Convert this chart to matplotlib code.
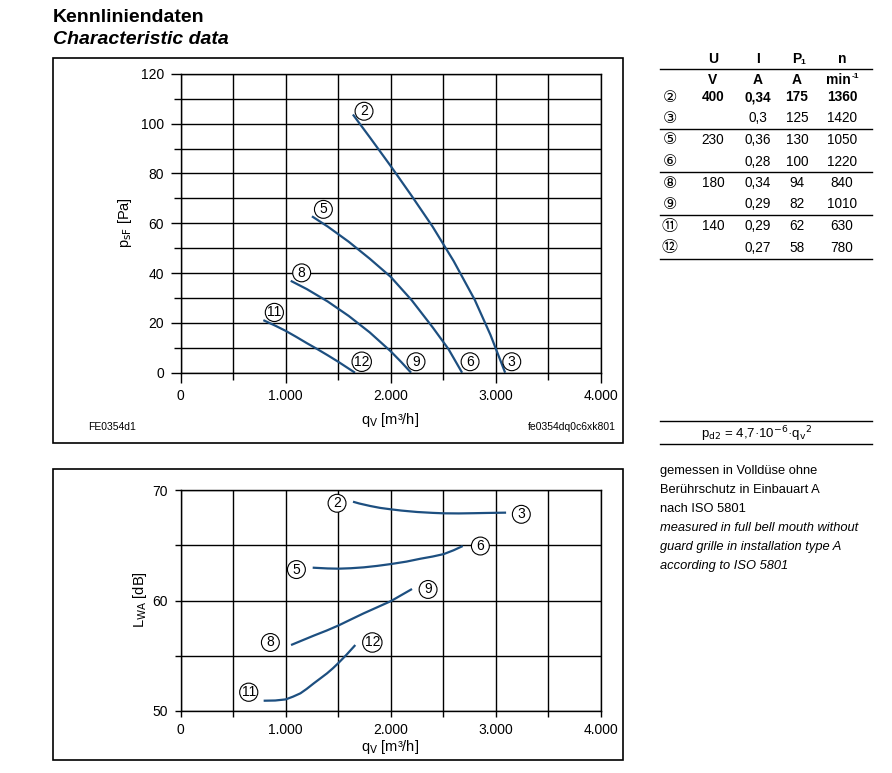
import matplotlib
matplotlib.use("Agg")
import matplotlib.pyplot as plt
from matplotlib.patches import Rectangle
from matplotlib.lines import Line2D

plt.rcParams['font.family'] = ['Liberation Sans', 'DejaVu Sans']

W, H = 892, 773
CURVE = '#1d4f80'

# ---- data: pressure curves (qv [m3/h], psF [Pa])
p23_q = [1640, 1800, 2000, 2200, 2400, 2600, 2800, 2950, 3090]
p23_p = [103.7, 94.6, 83.0, 71.0, 58.6, 44.8, 29.3, 15.2, 0]
p56_q = [1250, 1400, 1600, 1800, 2000, 2200, 2400, 2550, 2680]
p56_p = [62.8, 58.7, 52.6, 45.8, 38.5, 29.1, 18.2, 9.5, 0]
p89_q = [1048, 1200, 1400, 1600, 1800, 2000, 2100, 2194]
p89_p = [36.9, 33.6, 28.6, 22.8, 16.2, 8.6, 4.3, 0]
p1112_q = [787, 900, 1000, 1100, 1200, 1300, 1400, 1500, 1580, 1660]
p1112_p = [21.1, 18.9, 16.8, 14.4, 11.9, 9.5, 7.0, 4.4, 2.2, 0]

# ---- data: sound power curves (qv [m3/h], LWA [dB])
l23_q = [1641, 1700, 1806, 1900, 2003, 2100, 2251, 2400, 2505, 2650, 2790, 2900, 3099]
l23_l = [68.94, 68.78, 68.55, 68.38, 68.25, 68.14, 68.01, 67.93, 67.89, 67.88, 67.9, 67.92, 67.95]
l56_q = [1257, 1400, 1505, 1620, 1743, 1870, 2003, 2150, 2283, 2400, 2505, 2600, 2686]
l56_l = [62.97, 62.9, 62.88, 62.92, 63.0, 63.13, 63.3, 63.52, 63.78, 63.98, 64.2, 64.55, 64.93]
l89_q = [1051, 1160, 1267, 1390, 1505, 1620, 1743, 1870, 2003, 2100, 2203]
l89_l = [55.97, 56.4, 56.82, 57.28, 57.75, 58.28, 58.84, 59.38, 59.95, 60.48, 61.04]
l1112_q = [790, 900, 1000, 1070, 1140, 1200, 1267, 1330, 1394, 1450, 1505, 1580, 1663]
l1112_l = [50.93, 50.95, 51.05, 51.3, 51.6, 52.0, 52.5, 52.95, 53.41, 53.87, 54.37, 55.1, 55.97]

# curve labels (text, qv, value)
p_labels = [('2', 1746, 105), ('5', 1359, 65.6), ('8', 1152, 40.1), ('11', 892, 24.2),
            ('12', 1724, 4.4), ('9', 2241, 4.4), ('6', 2756, 4.4), ('3', 3153, 4.4)]
l_labels = [('2', 1489, 68.8), ('3', 3244, 67.8), ('6', 2854, 64.93), ('5', 1102, 62.8),
            ('9', 2356, 61.0), ('8', 854, 56.2), ('12', 1825, 56.2), ('11', 648, 51.7)]

x_ticks = [0, 1000, 2000, 3000, 4000]
x_ticklabels = ['0', '1.000', '2.000', '3.000', '4.000']
p_ticks = [0, 20, 40, 60, 80, 100, 120]
l_ticks = [50, 60, 70]

# table
tab_curve = ['\u2461', '\u2462', '\u2464', '\u2465', '\u2467', '\u2468', '\u246a', '\u246b']
tab_U = ['400', '', '230', '', '180', '', '140', '']
tab_I = ['0,34', '0,3', '0,36', '0,28', '0,34', '0,29', '0,29', '0,27']
tab_P = ['175', '125', '130', '100', '94', '82', '62', '58']
tab_n = ['1360', '1420', '1050', '1220', '840', '1010', '630', '780']

notes = ['gemessen in Volldüse ohne', 'Berührschutz in Einbauart A', 'nach ISO 5801',
         'measured in full bell mouth without', 'guard grille in installation type A',
         'according to ISO 5801']


def fx(px):
    return px / W


def fy(py):
    return 1 - py / H


fig = plt.figure(figsize=(W / 100, H / 100), dpi=100)

fig.text(fx(53), fy(17), 'Kennliniendaten', fontsize=14, fontweight='bold', va='center')
fig.text(fx(53), fy(40), 'Characteristic data', fontsize=14, fontweight='bold',
         fontstyle='italic', va='center')

# frames
for (x0, y0, x1, y1) in [(53, 58, 623, 443), (53, 469, 623, 760)]:
    fig.patches.append(Rectangle((fx(x0), fy(y1)), fx(x1 - x0), (y1 - y0) / H,
                                 transform=fig.transFigure, fill=False, ec='black', lw=1.2))


def setup(ax, ymin, ymax, ymin_step, yticks, big):
    ax.set_xlim(0, 4000)
    ax.set_ylim(ymin, ymax)
    ax.set_xticks(x_ticks)
    ax.set_xticklabels(x_ticklabels)
    ax.set_xticks(range(500, 4000, 1000), minor=True)
    ax.set_yticks(yticks)
    ax.set_yticks([v for v in range(ymin, ymax + 1, ymin_step) if v not in yticks], minor=True)
    ax.grid(True, which='both', color='black', lw=1.0)
    for s in ax.spines.values():
        s.set_linewidth(1.0)
    L = 7 if big else 4
    ax.tick_params(which='major', length=L, width=1.0, labelsize=10, pad=5)
    ax.tick_params(which='minor', length=L - 2 if big else L, width=1.0)
    ax.set_axisbelow(True)


def circ(ax, items):
    for t, x, y in items:
        ax.text(x, y, t, fontsize=10, ha='center', va='center',
                bbox=dict(boxstyle='circle,pad=0.14', fc='white', ec='black', lw=0.8))


ax1 = fig.add_axes([fx(180.7), fy(372.7), 420 / W, 298.8 / H])
setup(ax1, 0, 120, 10, p_ticks, True)
for q, p in [(p23_q, p23_p), (p56_q, p56_p), (p89_q, p89_p), (p1112_q, p1112_p)]:
    ax1.plot(q, p, color=CURVE, lw=1.6, solid_capstyle='butt')
circ(ax1, p_labels)

ax2 = fig.add_axes([fx(180.7), fy(711), 420 / W, 221 / H])
setup(ax2, 50, 70, 5, l_ticks, False)
for q, l in [(l23_q, l23_l), (l56_q, l56_l), (l89_q, l89_l), (l1112_q, l1112_l)]:
    ax2.plot(q, l, color=CURVE, lw=1.6, solid_capstyle='butt')
circ(ax2, l_labels)

fig.text(fx(125), fy(223), r'p$_{\mathrm{sF}}$ [Pa]', rotation=90, fontsize=10.5,
         ha='center', va='center')
fig.text(fx(140), fy(600), r'L$_{\mathrm{WA}}$ [dB]', rotation=90, fontsize=10.5,
         ha='center', va='center')
fig.text(fx(390), fy(420), r'q$_{\mathrm{V}}$ [m³/h]', fontsize=10.5, ha='center', va='center')
fig.text(fx(390), fy(747), r'q$_{\mathrm{V}}$ [m³/h]', fontsize=10.5, ha='center', va='center')
fig.text(fx(88), fy(427), 'FE0354d1', fontsize=7.5, va='center')
fig.text(fx(616), fy(427), 'fe0354dq0c6xk801', fontsize=7.5, va='center', ha='right')

# table
cols = [670, 713, 758, 797, 842]
hdr = dict(fontsize=10, fontweight='bold', ha='center', va='center')
fig.text(fx(cols[1]), fy(59), 'U', **hdr)
fig.text(fx(cols[2]), fy(59), 'I', **hdr)
fig.text(fx(cols[3]), fy(59), 'P', **hdr)
fig.text(fx(cols[3] + 6), fy(63), '1', fontsize=6, fontweight='bold', ha='center', va='center')
fig.text(fx(cols[4]), fy(59), 'n', **hdr)
fig.text(fx(cols[1]), fy(80), 'V', **hdr)
fig.text(fx(cols[2]), fy(80), 'A', **hdr)
fig.text(fx(cols[3]), fy(80), 'A', **hdr)
fig.text(fx(cols[4] - 4), fy(80), 'min', **hdr)
fig.text(fx(cols[4] + 13), fy(76), '-1', fontsize=6, fontweight='bold', ha='center', va='center')

for i in range(len(tab_curve)):
    y = 97 + i * 21.5
    fw = 'bold' if i == 0 else 'normal'
    fig.text(fx(cols[0]), fy(y), tab_curve[i], fontsize=11.5, ha='center', va='center',
             family=['DejaVu Sans', 'Noto Sans CJK JP'])
    for c, v in zip(cols[1:], [tab_U[i], tab_I[i], tab_P[i], tab_n[i]]):
        fig.text(fx(c), fy(y), v, fontsize=9.8, ha='center', va='center', fontweight=fw)

for y in [68.5, 129, 172, 215, 258.5, 421, 444]:
    fig.add_artist(Line2D([fx(660), fx(872)], [fy(y), fy(y)], color='black', lw=1.0))

fig.text(fx(757), fy(434), r'p$_{\mathrm{d2}}$ = 4,7·10$^{\mathrm{-6}}$·q$_{\mathrm{v}}$$^{\mathrm{2}}$',
         fontsize=9.5, ha='center', va='center')

for i, t in enumerate(notes):
    fig.text(fx(660), fy(471 + i * 19), t, fontsize=9.3, va='center',
             fontstyle='italic' if i >= 3 else 'normal')

fig.savefig('out.png', dpi=100)
